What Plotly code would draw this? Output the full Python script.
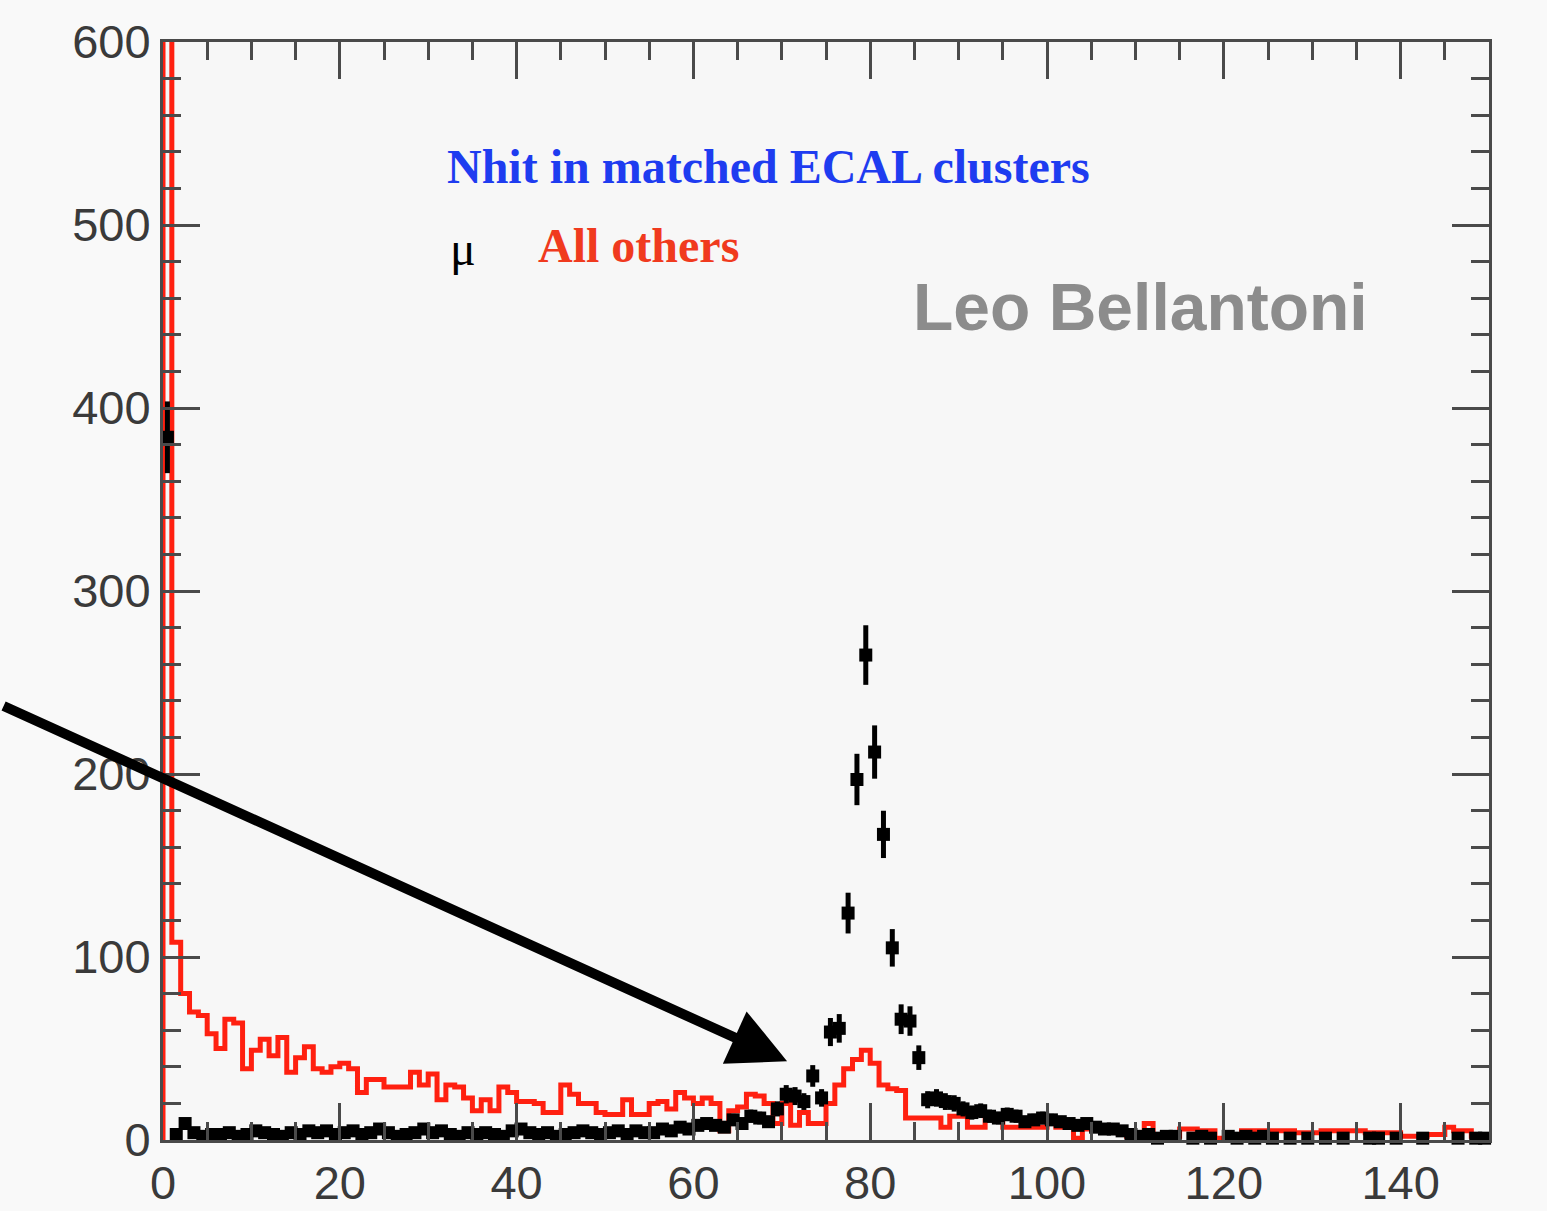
import numpy as np
import plotly.graph_objects as go

# Histogram binning: 150 unit-wide bins on [0, 150]
bin_edges = list(range(0, 151))
bin_centers = [e + 0.5 for e in bin_edges[:-1]]

# Nhit counts, "All others" (red step histogram); bin 0 runs far off scale
others_counts = [
    1000, 108, 80, 70, 68, 58, 50, 66, 64, 39,
    49, 55, 46, 56, 37, 45, 51, 39, 37, 40,
    42, 39, 26, 33, 33, 29, 29, 29, 37, 30,
    36, 22, 30, 29, 23, 16, 22, 16, 29, 26,
    21, 21, 20, 15, 15, 30, 25, 20, 20, 15,
    14, 14, 22, 14, 14, 20, 21, 17, 26, 23,
    20, 23, 20, 5, 16, 18, 25, 24, 20, 9,
    20, 8, 15, 9, 9, 20, 30, 39, 44, 49,
    42, 30, 28, 27, 12, 12, 12, 12, 7, 13,
    13, 7, 7, 12, 12, 7, 7, 7, 7, 7,
    9, 7, 7, 1, 6, 6, 6, 6, 4, 2,
    1, 9, 2, 2, 2, 6, 6, 5, 5, 1,
    1, 1, 5, 5, 5, 5, 5, 5, 4, 4,
    4, 5, 5, 5, 5, 5, 4, 4, 4, 4,
    2, 2, 2, 3, 3, 7, 5, 5, 2, 2,
]

# Nhit counts, muons (black points with errors); None = empty bin
muon_counts = [
    384, 3, 9, 4, 2, 3, 3, 4, 2, 3,
    5, 4, 3, 2, 4, 3, 5, 4, 5, 3,
    4, 5, 3, 4, 6, 4, 2, 3, 4, 6,
    4, 5, 3, 2, 4, 3, 4, 3, 2, 5,
    6, 4, 3, 4, 2, 3, 4, 5, 4, 3,
    4, 5, 3, 5, 4, 4, 6, 5, 7, 6,
    8, 9, 8, 7, 11, 9, 13, 12, 10, 17,
    25, 24, 21, 35, 23, 59, 61, 124, 197, 265,
    212, 167, 105, 66, 65, 45, 22, 23, 21, 20,
    17, 15, 16, 13, 12, 14, 13, 10, 11, 12,
    11, 10, 9, 8, 9, 7, 6, 6, 5, 3,
    2, 3, 1, 2, 2, None, 1, 2, 1, None,
    2, 1, 2, 1, 2, 1, None, 1, None, 1,
    None, 1, None, 1, None, None, 1, 1, None, 1,
    None, None, 1, None, None, None, 1, None, 1, 1,
]

x_tick_values = [0, 20, 40, 60, 80, 100, 120, 140]
y_tick_values = [0, 100, 200, 300, 400, 500, 600]

RED = "#ff2010"
AXIS_GREY = "#4a4a4a"

fig = go.Figure()

# Red step histogram
step_x = [bin_edges[0]] + bin_edges[:-1] + [bin_edges[-1]]
step_y = [0] + others_counts + [others_counts[-1]]
fig.add_trace(go.Scatter(
    x=step_x, y=step_y, mode="lines",
    line=dict(color=RED, width=5, shape="hv"),
    hoverinfo="skip", showlegend=False,
))

# Black muon points with Poisson errors
mx = [c for c, v in zip(bin_centers, muon_counts) if v is not None]
my = [v for v in muon_counts if v is not None]
fig.add_trace(go.Scatter(
    x=mx, y=my, mode="markers",
    marker=dict(symbol="square", size=13, color="black"),
    error_y=dict(type="data", array=np.sqrt(my), thickness=5, width=0, color="black"),
    cliponaxis=False, showlegend=False,
))

axis_common = dict(
    showgrid=False, zeroline=False, automargin=False,
    showline=True, linecolor=AXIS_GREY, linewidth=3,
    mirror="ticks", ticks="inside", tickcolor=AXIS_GREY,
    tickwidth=3, ticklen=37,
    tickfont=dict(family="Liberation Sans, Arial, sans-serif", size=47, color="#3a3a3a"),
)

fig.update_xaxes(
    range=[0, 150], tickvals=x_tick_values,
    ticktext=[str(v) for v in x_tick_values],
    minor=dict(ticks="inside", dtick=5, tick0=0, ticklen=18, tickwidth=3, tickcolor=AXIS_GREY),
    ticklabelstandoff=0,
    **axis_common,
)
fig.update_yaxes(
    range=[0, 600], tickvals=y_tick_values,
    ticktext=[str(v) for v in y_tick_values],
    minor=dict(ticks="inside", dtick=20, tick0=0, ticklen=18, tickwidth=3, tickcolor=AXIS_GREY),
    ticklabelstandoff=0,
    **axis_common,
)

serif = "Liberation Serif, Times New Roman, serif"
annotations = [
    dict(text="<b>Nhit in matched ECAL clusters</b>", x=31.9, y=532,
         font=dict(family=serif, size=48, color="#1e3cf0")),
    dict(text="μ", x=32.2, y=487,
         font=dict(family=serif, size=48, color="black")),
    dict(text="<b>All others</b>", x=42.2, y=489,
         font=dict(family=serif, size=48, color="#f03a1e")),
    dict(text="<b>Leo Bellantoni</b>", x=84.6, y=455,
         font=dict(family="Liberation Sans, Arial, sans-serif", size=66, color="#8c8c8c")),
]
for a in annotations:
    fig.add_annotation(xref="x", yref="y", xanchor="left", yanchor="middle",
                       showarrow=False, **a)

# Pointer arrow into the muon region
fig.add_annotation(
    xref="x", yref="y", x=70.6, y=43, text="",
    showarrow=True, arrowhead=2, arrowsize=1.15, arrowwidth=10,
    arrowcolor="black", ax=-785, ay=-356, standoff=0,
)

fig.update_layout(
    width=1547, height=1211,
    margin=dict(l=163, r=58, t=42, b=71),
    paper_bgcolor="#f9f9f9", plot_bgcolor="#f7f7f7",
)

fig.write_html("out.html")
